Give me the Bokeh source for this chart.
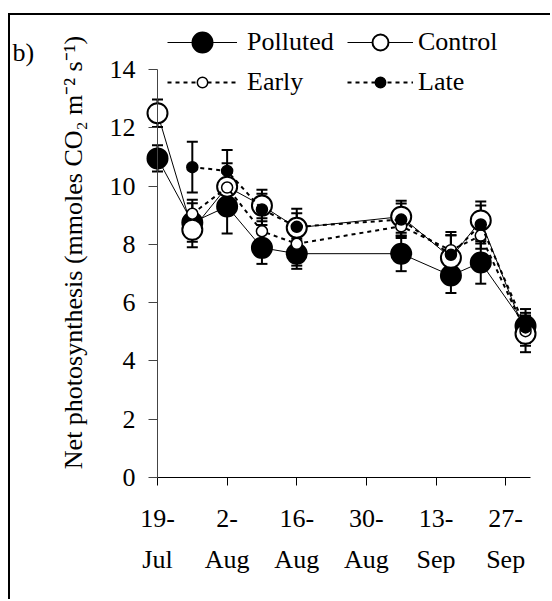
import pandas as pd
from bokeh.plotting import figure
from bokeh.models import (ColumnDataSource, Whisker, TeeHead, FixedTicker, LinearAxis,
                          Range1d, Legend, LegendItem, Label)
from bokeh.embed import file_html
from bokeh.resources import INLINE

# ---- data ----
dates = ["19-Jul", "26-Jul", "2-Aug", "9-Aug", "16-Aug", "6-Sep", "16-Sep", "22-Sep", "1-Oct"]
polluted = [10.95, 8.75, 9.30, 7.88, 7.68, 7.68, 6.93, 7.38, 5.20]
polluted_err = [0.45, 0.66, 0.93, 0.55, 0.52, 0.60, 0.60, 0.73, 0.58]
control = [12.50, 8.50, 9.98, 9.33, 8.57, 8.95, 7.54, 8.82, 4.93]
control_err = [0.47, 0.60, 0.80, 0.54, 0.65, 0.55, 0.77, 0.65, 0.63]
late_dates = ["26-Jul", "2-Aug", "9-Aug", "16-Aug", "6-Sep", "16-Sep", "22-Sep", "1-Oct"]
early = [9.05, 9.95, 8.45, 8.02, 8.62, 7.80, 8.30, 5.02]
early_err = [0.48, 0.50, 0.45, 0.75, 0.40, 0.62, 0.45, 0.50]
late = [10.65, 10.52, 9.20, 8.60, 8.85, 7.64, 8.68, 5.15]
late_err = [0.87, 0.72, 0.54, 0.47, 0.55, 0.67, 0.65, 0.50]
tick_dates = ["19-Jul", "2-Aug", "16-Aug", "30-Aug", "13-Sep", "27-Sep"]
y_ticks = [0, 2, 4, 6, 8, 10, 12, 14]
X_AXIS_DAYS = 75
Y_AXIS_MAX = 14

FONT = "Liberation Serif"
FS = "26px"

# ---- layout (canvas pixels) ----
W, H = 542, 586
X0_PX, XEND_PX = 147, 520      # canvas x of day 0 and of the axis end
Y0_PX, YTOP_PX = 462, 54       # canvas y (from top) of value 0 and of 14


def to_days(lst):
    d = pd.to_datetime([s + "-2000" for s in lst], format="%d-%b-%Y")
    start = pd.Timestamp("2000-07-19")
    return [int((x - start).days) for x in d]


days = to_days(dates)
days_late = to_days(late_dates)
tick_days = to_days(tick_dates)

ppd = (XEND_PX - X0_PX) / X_AXIS_DAYS
ppv = (Y0_PX - YTOP_PX) / Y_AXIS_MAX
x_rng = Range1d(-X0_PX / ppd, (W - X0_PX) / ppd)
y_rng = Range1d(-(H - Y0_PX) / ppv, Y0_PX / ppv)


def src(x, y, e):
    return ColumnDataSource(dict(x=x, y=y, lo=[a - b for a, b in zip(y, e)],
                                 hi=[a + b for a, b in zip(y, e)]))


p = figure(width=W, height=H, x_range=x_rng, y_range=y_rng, title=None,
           output_backend="svg", toolbar_location=None,
           min_border_left=0, min_border_right=0, min_border_top=0, min_border_bottom=0)
p.styles = {"border-left": "2px solid black", "border-top": "2px solid black",
            "margin-left": "8px", "margin-top": "13px"}
p.grid.visible = False
p.outline_line_color = None
p.background_fill_color = "white"
p.border_fill_color = "white"

# y axis
ya = p.yaxis[0]
ya.fixed_location = 0
ya.bounds = (0, Y_AXIS_MAX)
ya.ticker = FixedTicker(ticks=y_ticks)
ya.major_tick_out = 9
ya.major_tick_in = 0
ya.minor_tick_out = 0
ya.minor_tick_in = 0
ya.major_label_standoff = 13
ya.major_label_text_font = FONT
ya.major_label_text_font_size = FS
ya.major_label_text_color = "black"
ya.axis_line_color = "#444444"
ya.major_tick_line_color = "#444444"

# x axis (two lines of labels)
xa = p.xaxis[0]
xa.fixed_location = 0
xa.bounds = (0, X_AXIS_DAYS)
xa.ticker = FixedTicker(ticks=tick_days)
xa.major_label_overrides = {d: s.split("-")[0] + "-" for d, s in zip(tick_days, tick_dates)}
xa.major_tick_out = 8
xa.major_tick_in = 0
xa.minor_tick_out = 0
xa.minor_tick_in = 0
xa.major_label_standoff = 24
xa.major_label_text_font = FONT
xa.major_label_text_font_size = FS
xa.major_label_text_color = "black"
xa.axis_line_color = "black"

xa2 = LinearAxis(ticker=FixedTicker(ticks=tick_days), fixed_location=0, bounds=(0, X_AXIS_DAYS))
xa2.major_label_overrides = {d: s.split("-")[1] for d, s in zip(tick_days, tick_dates)}
xa2.axis_line_color = None
xa2.major_tick_line_color = None
xa2.minor_tick_line_color = None
xa2.major_tick_out = 0
xa2.major_tick_in = 0
xa2.minor_tick_out = 0
xa2.major_label_standoff = 67
xa2.major_label_text_font = FONT
xa2.major_label_text_font_size = FS
xa2.major_label_text_color = "black"
p.add_layout(xa2, "below")


def add_series(x, y, e, size, fill, dash, lw, cap):
    s = src(x, y, e)
    w = Whisker(source=s, base="x", lower="lo", upper="hi", line_color="black", line_width=2,
                upper_head=TeeHead(size=cap, line_width=2, line_color="black"),
                lower_head=TeeHead(size=cap, line_width=2, line_color="black"))
    p.add_layout(w)
    ln = p.line("x", "y", source=s, line_color="black", line_width=lw, line_dash=dash)
    sc = p.scatter("x", "y", source=s, size=size, fill_color=fill, line_color="black",
                   line_width=2 if size > 15 else 1.5)
    return ln, sc


lp = add_series(days, polluted, polluted_err, 20, "black", "solid", 1, 11)
lc = add_series(days, control, control_err, 20, "white", "solid", 1, 11)
le = add_series(days_late, early, early_err, 11, "white", "4 4", 2, 11)
ll = add_series(days_late, late, late_err, 11, "black", "4 4", 2, 11)


def add_legend(label, rends, loc, gw, gh, standoff):
    lg = Legend(items=[LegendItem(label=label, renderers=list(rends))], location=loc,
                glyph_width=gw, glyph_height=gh, label_standoff=standoff, padding=0, margin=0,
                border_line_alpha=0, background_fill_alpha=0, label_text_font=FONT,
                label_text_font_size=FS, label_text_color="black")
    p.add_layout(lg)


add_legend("Polluted", lp, (157, 534), 70, 50, 10)
add_legend("Control", lc, (337, 539), 66, 40, 5)
add_legend("Early", le, (157, 504), 70, 26, 10)
add_legend("Late", ll, (337, 504), 66, 26, 5)

p.add_layout(Label(x=63, y=349, x_units="screen", y_units="screen",
                   text="Net photosynthesis (mmoles CO\u2082 m\u207b\u00b2 s\u207b\u00b9)",
                   angle=90, angle_units="deg", text_align="center", text_baseline="alphabetic",
                   text_font=FONT, text_font_size=FS, text_color="black"))
p.add_layout(Label(x=2, y=549, x_units="screen", y_units="screen", text="b)",
                   text_align="left", text_baseline="alphabetic",
                   text_font=FONT, text_font_size=FS, text_color="black"))

open("out.html", "w").write(file_html(p, INLINE))
